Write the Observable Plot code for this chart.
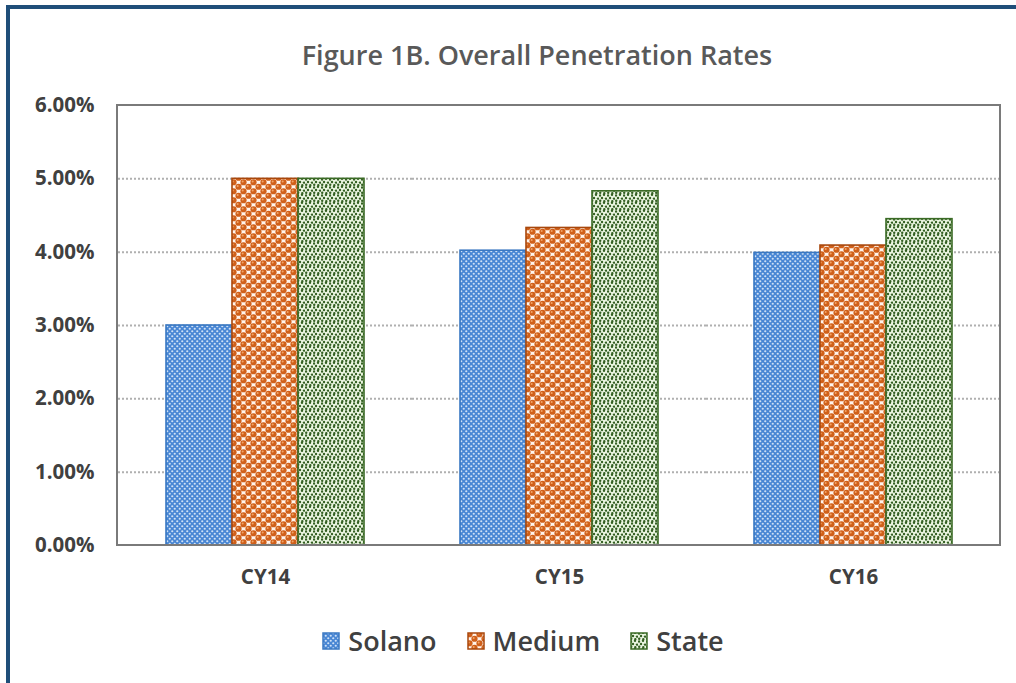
<!DOCTYPE html>
<html>
<head>
<meta charset="utf-8">
<script src="https://cdn.jsdelivr.net/npm/d3@7"></script>
<script src="https://cdn.jsdelivr.net/npm/@observablehq/plot@0.6"></script>
<style>
  html, body { margin: 0; padding: 0; background: #fff; }
  #page { position: relative; width: 1016px; height: 683px; overflow: hidden; font-family: "Open Sans", sans-serif; }
  #border { position: absolute; left: 6px; top: 5px; width: 1016px; height: 690px; border-top: 4px solid #1f4e79; border-left: 4px solid #1f4e79; box-sizing: border-box; }
  #title { position: absolute; top: 36px; left: 0; width: 1074px; text-align: center; font-size: 27px; font-weight: 600; color: #595959; }
  #chart { position: absolute; top: 90px; left: 0; }
  #legend { position: absolute; top: 622px; left: 0; width: 1046px; display: flex; justify-content: center; align-items: center; gap: 30px; font-size: 27px; font-weight: 600; color: #404040; }
  .item { display: flex; align-items: center; gap: 8px; }
  .item svg { display: block; }
</style>
</head>
<body>
<svg width="0" height="0" style="position:absolute">
  <defs>
    <pattern id="pSolano" patternUnits="userSpaceOnUse" width="5" height="5">
      <rect width="5" height="5" fill="#4886d4"/>
      <circle cx="1.25" cy="1.25" r="1.1" fill="#cfe1f6"/>
      <circle cx="3.75" cy="3.75" r="1.1" fill="#cfe1f6"/>
    </pattern>
    <pattern id="pMedium" patternUnits="userSpaceOnUse" width="10" height="9">
      <rect width="10" height="9" fill="#fff4ec"/>
      <circle cx="2.5" cy="2.25" r="3.1" fill="#d0601a"/>
      <circle cx="7.5" cy="6.75" r="3.1" fill="#d0601a"/>
      <circle cx="12.5" cy="2.25" r="3.1" fill="#d0601a"/>
      <circle cx="-2.5" cy="6.75" r="3.1" fill="#d0601a"/>
      <circle cx="2.5" cy="11.25" r="3.1" fill="#d0601a"/>
      <circle cx="7.5" cy="-2.25" r="3.1" fill="#d0601a"/>
      <circle cx="12.5" cy="11.25" r="3.1" fill="#d0601a"/>
      <circle cx="-2.5" cy="-2.25" r="3.1" fill="#d0601a"/>
      <circle cx="1.7" cy="1.5" r="1" fill="#f2a466"/>
      <circle cx="6.7" cy="6.0" r="1" fill="#f2a466"/>
    </pattern>
    <pattern id="pState" patternUnits="userSpaceOnUse" width="8" height="8">
      <rect width="8" height="8" fill="#eaf5e0"/>
      <circle cx="1" cy="1.5" r="1.2" fill="#335f22"/>
      <circle cx="5" cy="0.8" r="1.2" fill="#335f22"/>
      <circle cx="3" cy="4" r="1.2" fill="#335f22"/>
      <circle cx="7" cy="4.6" r="1.2" fill="#335f22"/>
      <circle cx="1.2" cy="6.8" r="1.2" fill="#335f22"/>
      <circle cx="5.3" cy="7.2" r="1.2" fill="#335f22"/>
    </pattern>
  </defs>
</svg>
<div id="page">
  <div id="border"></div>
  <div id="title">Figure 1B. Overall Penetration Rates</div>
  <div id="chart"></div>
  <div id="legend"></div>
</div>
<script>
const years = ["CY14", "CY15", "CY16"];
const seriesNames = ["Solano", "Medium", "State"];
const solano = [0.0300, 0.0402, 0.0399];
const medium = [0.0500, 0.0433, 0.0409];
const state  = [0.0500, 0.0483, 0.0445];
const yTicks = [0, 0.01, 0.02, 0.03, 0.04, 0.05, 0.06];
const gridTicks = [0.01, 0.02, 0.03, 0.04, 0.05];

const fills = {Solano: "url(#pSolano)", Medium: "url(#pMedium)", State: "url(#pState)"};
const strokes = {Solano: "#3a78c2", Medium: "#a8470c", State: "#3b6b26"};

const valuesBySeries = {Solano: solano, Medium: medium, State: state};
const data = years.flatMap((yr, i) => seriesNames.map(s => ({year: yr, series: s, value: valuesBySeries[s][i]})));

const W = 1016, H = 510, mL = 117, mR = 16, mT = 15, mB = 55;

const plot = Plot.plot({
  width: W,
  height: H,
  marginLeft: mL,
  marginRight: mR,
  marginTop: mT,
  marginBottom: mB,
  style: {fontFamily: "Open Sans, sans-serif", fontSize: "20.5px", fontWeight: 700, color: "#404040", background: "transparent"},
  fx: {domain: years, padding: 0, label: null, axis: "bottom", tickSize: 0, tickPadding: 24},
  x: {domain: seriesNames, paddingInner: 0, paddingOuter: 0.696, axis: null},
  y: {domain: [0, 0.06], ticks: yTicks, tickFormat: d3.format(".2%"), tickSize: 0, tickPadding: 24, label: null},
  marks: [
    Plot.ruleY(gridTicks, {stroke: "#b0b0b0", strokeWidth: 2, strokeDasharray: "2,2"}),
    ...seriesNames.map(s => Plot.barY(data.filter(d => d.series === s), {
      fx: "year", x: "series", y: "value",
      fill: fills[s], stroke: strokes[s], strokeWidth: 1.6
    }))
  ]
});

d3.select(plot).append("rect")
  .attr("x", mL).attr("y", mT)
  .attr("width", W - mL - mR).attr("height", H - mT - mB)
  .attr("fill", "none").attr("stroke", "#7a7a7a").attr("stroke-width", 2);

document.getElementById("chart").appendChild(plot);

const legend = d3.select("#legend");
seriesNames.forEach(s => {
  const it = legend.append("div").attr("class", "item");
  const sw = it.append("svg").attr("width", 18).attr("height", 18);
  sw.append("rect").attr("x", 1).attr("y", 1).attr("width", 16).attr("height", 16)
    .attr("fill", fills[s]).attr("stroke", strokes[s]).attr("stroke-width", 1.5);
  it.append("span").text(s);
});
</script>
</body>
</html>
